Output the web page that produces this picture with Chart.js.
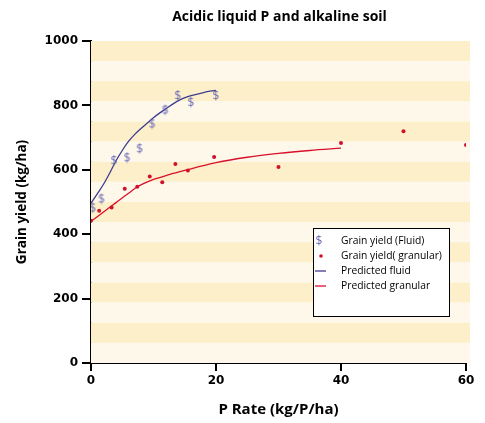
<!DOCTYPE html>
<html>
<head>
<meta charset="utf-8">
<script src="https://cdn.jsdelivr.net/npm/chart.js@4.4.1/dist/chart.umd.min.js"></script>
<style>
  body { margin: 0; background: #fff; }
  #wrap { width: 485px; height: 423px; }
</style>
</head>
<body>
<div id="wrap"><canvas id="yieldChart" width="485" height="423"></canvas></div>
<script>
// Measured values (P rate kg/P/ha vs grain yield kg/ha)
const fluidRate = [0.3, 1.7, 3.7, 5.8, 7.8, 9.8, 11.9, 13.9, 16, 20];
const fluidYield = [480, 508, 627, 636, 664, 741, 784, 829, 808, 829];

const granRate = [0, 1.3, 3.3, 5.4, 7.4, 9.4, 11.4, 13.5, 15.5, 19.7, 30, 40, 50, 60];
const granYield = [442, 473, 483, 541, 547, 579, 561, 618, 598, 640, 609, 683, 720, 677];

const predFluidRate = [0, 1, 2, 3, 4, 5, 6, 7, 8, 10, 12, 14, 16, 18, 20];
const predFluidYield = [496, 525, 555, 590, 628, 660, 688, 710, 728, 762, 790, 815, 830, 840, 847];

const predGranRate = [0, 2, 4, 6, 7.5, 10, 12.5, 15, 20, 25, 30, 35, 40];
const predGranYield = [440, 469, 498, 527, 548, 570, 585, 598, 622, 639, 651, 660, 667];

const xTicks = [0, 20, 40, 60];
const yTicks = [0, 200, 400, 600, 800, 1000];

const chartTitle = 'Acidic liquid P and alkaline soil';

function toPoints(xs, ys) {
    return xs.map((x, i) => ({ x: x, y: ys[i] }));
}

// dollar-sign marker for fluid points
const dollar = document.createElement('canvas');
dollar.width = 12;
dollar.height = 14;
const dctx = dollar.getContext('2d');
dctx.fillStyle = '#6b6bb5';
dctx.font = '12px "Open Sans"';
dctx.textAlign = 'center';
dctx.textBaseline = 'middle';
dctx.fillText('$', 6, 7.5);

// striped background behind the plot
const stripes = {
    id: 'stripes',
    beforeDatasetsDraw(chart) {
        const { ctx, chartArea, scales } = chart;
        const y = scales.y;
        ctx.save();
        for (let k = 0; k < 16; k++) {
            const top = y.getPixelForValue(1000 - k * 62.5);
            const bot = y.getPixelForValue(1000 - (k + 1) * 62.5);
            ctx.fillStyle = k % 2 === 0 ? '#fdefc9' : '#fef8ea';
            ctx.fillRect(chartArea.left, top, chartArea.right - chartArea.left + 4, bot - top);
        }
        ctx.restore();
    }
};

// title centred over the plot area
const plotTitle = {
    id: 'plotTitle',
    afterDraw(chart) {
        const { ctx, chartArea } = chart;
        ctx.save();
        ctx.fillStyle = '#000';
        ctx.font = 'bold 14px "Open Sans"';
        ctx.textAlign = 'center';
        ctx.textBaseline = 'middle';
        ctx.fillText(chartTitle, (chartArea.left + chartArea.right) / 2 + 1, 17);
        ctx.restore();
    }
};

// boxed legend inside the plot
const boxLegend = {
    id: 'boxLegend',
    afterDraw(chart) {
        const { ctx, chartArea } = chart;
        const left = chartArea.left + 222;
        const top = chartArea.top + 187;
        const w = 136, h = 88;
        ctx.save();
        ctx.fillStyle = '#fff';
        ctx.fillRect(left, top, w, h);
        ctx.strokeStyle = '#000';
        ctx.lineWidth = 1;
        ctx.strokeRect(left + 0.5, top + 0.5, w, h);
        ctx.font = '10.3px "Open Sans"';
        ctx.textBaseline = 'middle';
        chart.data.datasets.forEach((ds, i) => {
            const cy = top + 13 + i * 15;
            if (ds.pointStyle === dollar) {
                ctx.drawImage(dollar, left, cy - 7);
            } else if (!ds.showLine) {
                ctx.fillStyle = ds.pointBackgroundColor;
                ctx.beginPath();
                ctx.arc(left + 8, cy, 1.8, 0, Math.PI * 2);
                ctx.fill();
            } else {
                ctx.strokeStyle = ds.borderColor;
                ctx.lineWidth = 1.3;
                ctx.beginPath();
                ctx.moveTo(left + 2, cy);
                ctx.lineTo(left + 13, cy);
                ctx.stroke();
            }
            ctx.fillStyle = '#000';
            ctx.fillText(ds.label, left + 28, cy);
        });
        ctx.restore();
    }
};

const ctx1 = document.getElementById('yieldChart').getContext('2d');
const yieldChart = new Chart(ctx1, {
    type: 'scatter',
    data: {
        datasets: [{
            label: 'Grain yield (Fluid)',
            data: toPoints(fluidRate, fluidYield),
            pointStyle: dollar,
            showLine: false
        }, {
            label: 'Grain yield( granular)',
            data: toPoints(granRate, granYield),
            pointRadius: 2,
            pointBackgroundColor: '#d0102e',
            pointBorderWidth: 0,
            showLine: false
        }, {
            label: 'Predicted fluid',
            data: toPoints(predFluidRate, predFluidYield),
            showLine: true,
            borderColor: '#3d3d8f',
            borderWidth: 1.3,
            pointRadius: 0,
            cubicInterpolationMode: 'monotone'
        }, {
            label: 'Predicted granular',
            data: toPoints(predGranRate, predGranYield),
            showLine: true,
            borderColor: '#d8102b',
            borderWidth: 1.3,
            pointRadius: 0,
            cubicInterpolationMode: 'monotone'
        }]
    },
    options: {
        responsive: false,
        animation: false,
        layout: { padding: { right: 19, top: 41 } },
        plugins: {
            legend: { display: false },
            tooltip: { enabled: false },
            title: { display: false }
        },
        scales: {
            x: {
                type: 'linear',
                min: 0,
                max: 60,
                afterBuildTicks: (s) => { s.ticks = xTicks.map(v => ({ value: v })); },
                afterFit: (s) => { s.height = 60; },
                ticks: {
                    color: '#000', padding: 3,
                    font: { family: 'DejaVu Sans', size: 12, weight: 'bold' },
                    callback: (v) => String(v)
                },
                grid: { drawOnChartArea: false, tickLength: 8, color: '#000', lineWidth: 2 },
                border: { color: '#000', width: 2 },
                title: {
                    display: true,
                    text: 'P Rate (kg/P/ha)',
                    color: '#000',
                    font: { family: 'Open Sans', size: 15, weight: 'bold' },
                    padding: { top: 0, bottom: 4 }
                }
            },
            y: {
                min: 0,
                max: 1000,
                afterBuildTicks: (s) => { s.ticks = yTicks.map(v => ({ value: v })); },
                afterFit: (s) => { s.width = 91; },
                ticks: {
                    color: '#000', padding: 4,
                    font: { family: 'DejaVu Sans', size: 12, weight: 'bold' },
                    callback: (v) => String(v)
                },
                grid: { drawOnChartArea: false, tickLength: 9, color: '#000', lineWidth: 2 },
                border: { color: '#000', width: 2 },
                title: {
                    display: true,
                    text: 'Grain yield (kg/ha)',
                    color: '#000',
                    font: { family: 'Open Sans', size: 13.5, weight: 'bold' },
                    padding: { top: 14, bottom: 0 }
                }
            }
        }
    },
    plugins: [stripes, plotTitle, boxLegend]
});
</script>
</body>
</html>
